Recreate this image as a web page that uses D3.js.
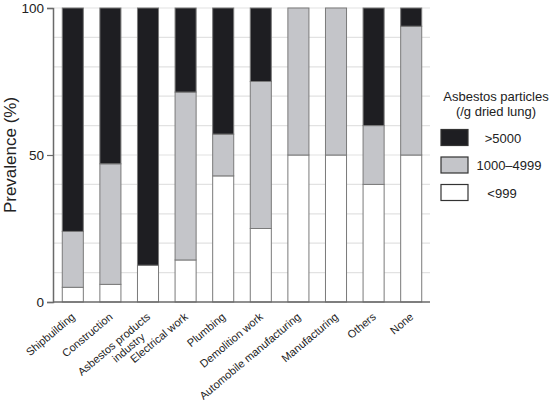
<!DOCTYPE html>
<html><head><meta charset="utf-8">
<script src="https://cdn.jsdelivr.net/npm/d3@7"></script>
<style>body{margin:0;background:#fff}svg{display:block;font-family:"Liberation Sans",Arial,sans-serif}</style>
</head><body><svg id="c" width="551" height="400"></svg>
<script>
const categories = ["Shipbuilding","Construction","Asbestos products|industry","Electrical work","Plumbing","Demolition work","Automobile manufacturing","Manufacturing","Others","None"];
const low = [5, 6, 12.5, 14.3, 42.9, 25, 50, 50, 40, 50];        // <999
const mid = [19, 41, 0, 57.1, 14.2, 50, 50, 50, 20, 43.8];       // 1000–4999
const high = [76, 53, 87.5, 28.6, 42.9, 25, 0, 0, 40, 6.2];      // >5000
const seriesNames = ["<999", "1000\u20134999", ">5000"];
const yTicks = [0, 50, 100];
const colors = {"<999":"#ffffff","1000\u20134999":"#c4c5c9",">5000":"#1e1e22"};

const svg = d3.select("#c");
const m = {l:54, r:121, t:8, b:98};
const W = 551, H = 400;
const x = d3.scaleBand().domain(categories).range([m.l, W-m.r]).paddingInner(0.44).paddingOuter(0.22);
const y = d3.scaleLinear().domain([0,100]).range([H-m.b, m.t]);

// grid
svg.append("g").selectAll("line").data(d3.range(10,101,10)).join("line")
  .attr("x1", m.l).attr("x2", W-m.r).attr("y1", d=>y(d)).attr("y2", d=>y(d))
  .attr("stroke", "#e2e2e2").attr("stroke-width", 1.2);

const rows = categories.map((c,i)=>({cat:c, "<999":low[i], "1000\u20134999":mid[i], ">5000":high[i]}));
const stack = d3.stack().keys(seriesNames)(rows);
svg.append("g").selectAll("g").data(stack).join("g")
  .attr("fill", d=>colors[d.key])
  .selectAll("rect").data(d=>d.filter(p=>p[1]-p[0]>0)).join("rect")
  .attr("x", d=>x(d.data.cat)).attr("width", x.bandwidth())
  .attr("y", d=>y(d[1])).attr("height", d=>y(d[0])-y(d[1]))
  .attr("stroke", "#7a7a7a").attr("stroke-width", 1);

// axes
const ya = svg.append("g").attr("transform", `translate(${m.l-1},0)`)
  .call(d3.axisLeft(y).tickValues(yTicks).tickSize(6).tickPadding(3));
ya.select(".domain").attr("stroke", "#6a6a6a").attr("stroke-width", 1.5);
ya.selectAll(".tick line").attr("stroke", "#6a6a6a").attr("stroke-width", 1.2);
ya.selectAll("text").attr("font-size", 13.5).attr("fill", "#222").attr("font-family", "Liberation Sans, Arial, sans-serif");

const xa = svg.append("g").attr("transform", `translate(0,${H-m.b})`)
  .call(d3.axisBottom(x).tickSize(0).tickFormat(""));
xa.select(".domain").attr("stroke", "#6a6a6a").attr("stroke-width", 1.5).attr("d", `M${m.l-1},0H${W-m.r}`);

// x labels
const xl = svg.append("g");
categories.forEach(c=>{
  const lines = c.split("|");
  const t = xl.append("text")
    .attr("transform", `translate(${x(c)+x.bandwidth()/2+3},${H-m.b+16}) rotate(-40)`)
    .attr("text-anchor", "end").attr("font-size", 11).attr("fill", "#222");
  if (lines.length === 1) {
    t.text(c);
  } else {
    t.append("tspan").attr("x", 0).attr("dy", 0).text(lines[0]);
    t.append("tspan").attr("x", -17).attr("dy", 12).text(lines[1]);
  }
});

// y label
svg.append("text").attr("transform", `translate(16,${(y(0)+y(100))/2}) rotate(-90)`)
  .attr("text-anchor", "middle").attr("font-size", 17).attr("fill", "#222").text("Prevalence (%)");

// legend
const lg = svg.append("g");
lg.append("text").attr("x", 496).attr("y", 100.5).attr("text-anchor", "middle").attr("font-size", 13).attr("fill", "#222").text("Asbestos particles");
lg.append("text").attr("x", 496).attr("y", 116).attr("text-anchor", "middle").attr("font-size", 13).attr("fill", "#222").text("(/g dried lung)");
const legItems = [">5000", "1000\u20134999", "<999"];
const legTextX = [503, 509, 502];
legItems.forEach((k,i)=>{
  const yy = 129.5 + i*27.5;
  lg.append("rect").attr("x", 441).attr("y", yy).attr("width", 27).attr("height", 16)
    .attr("fill", colors[k]).attr("stroke", "#333").attr("stroke-width", 1.2);
  lg.append("text").attr("x", legTextX[i]).attr("y", yy+13).attr("text-anchor", "middle").attr("font-size", 13).attr("fill", "#222").text(k);
});
</script></body></html>
